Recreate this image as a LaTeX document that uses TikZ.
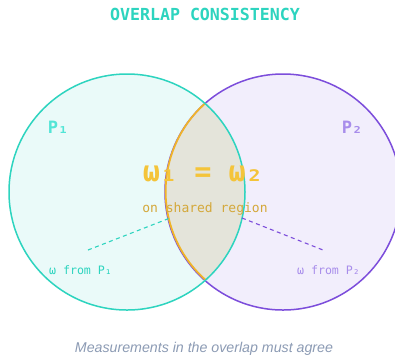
\documentclass[tikz,border=0pt]{standalone}
\usepackage{fontspec}
\setmainfont{Liberation Sans}
\newfontfamily\mono{DejaVu Sans Mono}
\definecolor{tealline}{HTML}{2DD4BF}
\definecolor{tealtxt}{HTML}{52E5D6}
\definecolor{leftfill}{HTML}{EAFAF9}
\definecolor{violetline}{HTML}{7C4DDB}
\definecolor{violettxt}{HTML}{A88DEB}
\definecolor{rightfill}{HTML}{F2EEFC}
\definecolor{lensfill}{HTML}{E4E4DA}
\definecolor{amberline}{HTML}{F0B429}
\definecolor{ambertxt}{HTML}{F4C43A}
\definecolor{amberdark}{HTML}{D4A83A}
\definecolor{captxt}{HTML}{8C9BB4}
\begin{document}
\begin{tikzpicture}[x=1pt,y=1pt,
  setcircle/.style={circle,minimum size=236pt,inner sep=0pt,outer sep=0pt},
  lbl/.style={inner sep=0pt,anchor=center},
  dashline/.style={line width=1.1pt,dash pattern=on 4pt off 3.5pt}]
\useasboundingbox (0,0) rectangle (395,-360);
\fill[white] (0,0) rectangle (395,-360);
% set fills
\node[setcircle,fill=leftfill] (c1) at (127,-192) {};
\node[setcircle,fill=rightfill] (c2) at (283,-192) {};
% lens
\begin{scope}
  \clip (127,-192) circle (118pt);
  \fill[lensfill] (283,-192) circle (118pt);
\end{scope}
\draw[violetline,line width=1.5pt] (283,-192) circle (118pt);
\draw[amberline,line width=1.8pt] (c2.131.4) arc[start angle=131.4,end angle=228.6,radius=118pt];
\draw[tealline,line width=1.5pt] (127,-192) circle (118pt);
% title
\node[lbl,text=tealline,font=\mono\bfseries\fontsize{16.6}{18}\selectfont] (title) at (205,-14) {OVERLAP CONSISTENCY};
% set labels
\node[lbl,text=tealtxt,font=\mono\bfseries\fontsize{17}{18}\selectfont] (p1) at (58,-127) {P₁};
\node[lbl,text=violettxt,font=\mono\bfseries\fontsize{17}{18}\selectfont] (p2) at (352,-127) {P₂};
% central text
\node[lbl,text=ambertxt,font=\mono\bfseries\fontsize{28.5}{30}\selectfont] (eq) at (203,-174) {ω₁ = ω₂};
\node[lbl,text=amberdark,font=\mono\fontsize{13}{14}\selectfont] (shared) at (205,-209) {on shared region};
% lower labels
\node[lbl,text=tealline,font=\mono\fontsize{11.6}{13}\selectfont] (l1) at (80.5,-270) {ω from P₁};
\node[lbl,text=violettxt,font=\mono\fontsize{11.6}{13}\selectfont] (l2) at (328.5,-270) {ω from P₂};
\coordinate (a1) at (88,-250);
\coordinate (b1) at (170,-218);
\coordinate (a2) at (323,-250);
\coordinate (b2) at (242,-218);
\draw[tealline,dashline] (a1) -- (b1);
\draw[violetline,dashline] (b2) -- (a2);
% caption
\node[lbl,text=captxt,font=\itshape\fontsize{14.2}{16}\selectfont] (cap) at (204,-349) {Measurements in the overlap must agree};
\end{tikzpicture}
\end{document}
